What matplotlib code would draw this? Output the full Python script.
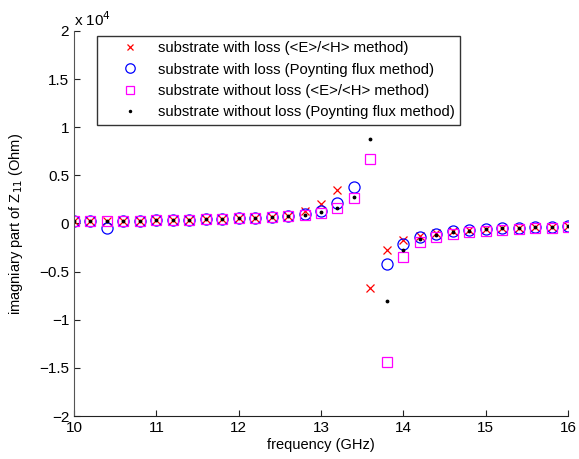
import numpy as np
import matplotlib
matplotlib.use("Agg")
import matplotlib.pyplot as plt

plt.rcParams['font.family'] = ['Liberation Sans', 'DejaVu Sans']

freq = np.round(np.arange(10.0, 16.0001, 0.2), 1)

nan = np.nan
lossy_EH = [230, 250, 270, 290, 310, 340, 370, 400, 430, 470, 520, 580, 650, 760, 1300,
            2000, 3430, nan, -6700, -2730, -1700, -1250, -1000, -800, -650, -550, -480,
            -420, -370, -330, -300]
lossy_PF = [230, 250, -450, 290, 310, 340, 370, 400, 430, 470, 520, 580, 650, 750, 1000,
            1350, 2150, 3780, nan, -4230, -2150, -1370, -1050, -820, -660, -560, -480,
            -420, -370, -330, -300]
lossless_EH = [230, 250, 270, 290, 310, 340, 370, 400, 430, 470, 520, 580, 650, 740, 880,
               1100, 1630, 2700, 6720, -14340, -3460, -1950, -1400, -1100, -900, -750, -630,
               -540, -470, -420, -380]
lossless_PF = [230, 250, 270, 290, 310, 340, 370, 400, 430, 470, 520, 580, 650, 740, 900,
               1200, 1660, 2800, 8800, -8030, -2730, -1600, -1150, -920, -740, -600, -500,
               -430, -380, -340, -310]

labels = ['substrate with loss (<E>/<H> method)',
          'substrate with loss (Poynting flux method)',
          'substrate without loss (<E>/<H> method)',
          'substrate without loss (Poynting flux method)']

fig = plt.figure(figsize=(5.79, 4.59), dpi=100)
ax = fig.add_axes([74/579, 43/459, 494/579, 385/459])

ax.plot(freq, lossy_EH, linestyle='none', marker='x', color='red', markersize=5.5,
        markeredgewidth=0.9, label=labels[0])
ax.plot(freq, lossy_PF, linestyle='none', marker='o', markerfacecolor='none',
        markeredgecolor='blue', markersize=8, markeredgewidth=0.9, label=labels[1])
ax.plot(freq, lossless_EH, linestyle='none', marker='s', markerfacecolor='none',
        markeredgecolor='magenta', markersize=7, markeredgewidth=0.9, label=labels[2])
ax.plot(freq, lossless_PF, linestyle='none', marker='.', color='black', markersize=3.5,
        label=labels[3])

ax.set_xlim(10, 16)
ax.set_ylim(-2e4, 2e4)
yt = np.arange(-2e4, 2.0001e4, 0.5e4)
ax.set_yticks(yt)
ax.set_yticklabels(['\u22122', '\u22121.5', '\u22121', '\u22120.5', '0', '0.5', '1', '1.5', '2'])
ax.set_xticks(np.arange(10, 17, 1))
ax.tick_params(direction='in', labelsize=11, length=4, width=0.8, colors='#222222')
for lab in ax.get_xticklabels() + ax.get_yticklabels():
    lab.set_color('black')
ax.spines['top'].set_visible(False)
ax.spines['right'].set_visible(False)
ax.spines['left'].set_color('#555555')
ax.spines['bottom'].set_color('#222222')

ax.text(0.0, 1.005, 'x 10$^4$', transform=ax.transAxes, fontsize=11, ha='left', va='bottom')
ax.set_xlabel('frequency (GHz)', fontsize=10.5, labelpad=2)
ax.set_ylabel('imagniary part of Z$_{11}$ (Ohm)', fontsize=10.5, labelpad=10)

leg = ax.legend(loc='upper left', bbox_to_anchor=(23/494, 380/385), fontsize=10.7,
                frameon=True, fancybox=False, edgecolor='black', borderpad=0.35,
                labelspacing=0.5, handletextpad=0.05, handlelength=3.7, borderaxespad=0,
                markerscale=0.85)
leg.get_frame().set_linewidth(1.0)

fig.savefig('out.png', dpi=100)
